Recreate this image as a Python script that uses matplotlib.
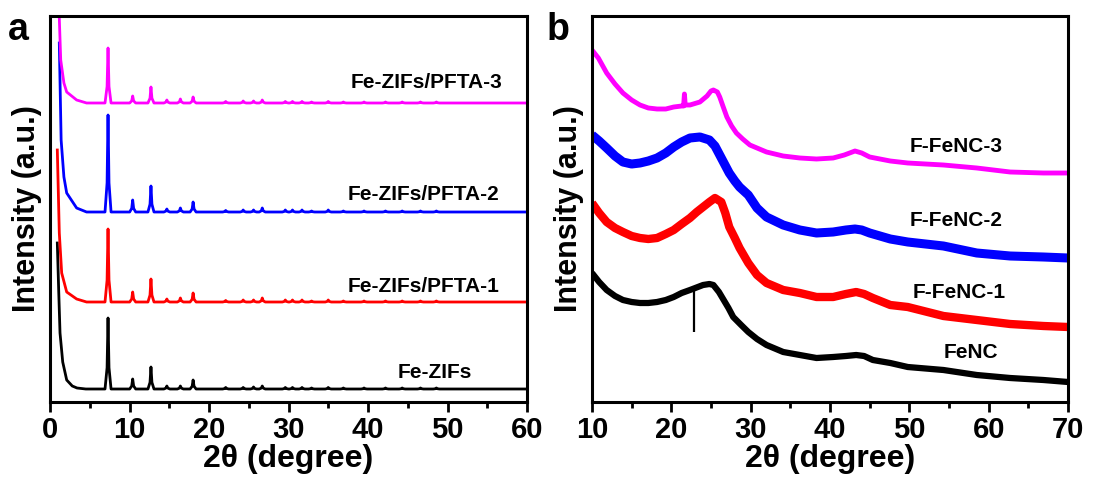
import matplotlib
matplotlib.use("Agg")
import matplotlib.pyplot as plt
from matplotlib.ticker import MultipleLocator

plt.rcParams['font.family'] = ['Liberation Sans', 'DejaVu Sans']
plt.rcParams['font.weight'] = 'bold'

# ---------------- panel a : Fe-ZIFs patterns (offset intensities) ----------------
labels_a = ['Fe-ZIFs', 'Fe-ZIFs/PFTA-1', 'Fe-ZIFs/PFTA-2', 'Fe-ZIFs/PFTA-3']
colors = ['#000000', '#ff0000', '#0000ff', '#ff00ff']

peak_pos = [7.3, 10.4, 12.7, 14.7, 16.4, 18.0, 22.1, 24.3, 25.6, 26.7, 29.6,
            30.5, 31.7, 32.9, 35.0, 36.9, 39.5, 42.2, 44.3, 46.6, 48.6]

base_a = [13, 100, 190, 299]

# low angle tail (2theta, intensity) for each pattern
tail_x = [[0.92, 1.1, 1.26, 1.6, 2.1, 2.8, 3.4, 4.5],
          [0.92, 1.17, 1.47, 2.1, 3.35, 4.6],
          [1.17, 1.4, 1.75, 2.1, 3.35, 4.6],
          [1.1, 1.35, 1.75, 2.1, 3.35, 4.6]]
tail_y = [[159, 110, 69, 40, 22, 16, 14, 13],
          [252, 169, 129, 110, 103, 100],
          [359, 262, 225, 209, 194, 190],
          [400, 342, 319, 310, 302, 299]]

heights_a = [
    [71, 10, 22, 3, 3, 9, 1.5, 1.5, 2, 3, 1.5, 1.5, 1.5, 1, 1.5, 1, 1, 1, 1, 1, 1],
    [73, 10, 23, 3, 4, 9, 1.5, 2, 2, 4, 2, 2, 2, 1, 2, 1, 1, 1, 1, 1, 1],
    [97, 12, 26, 3, 4, 10, 1.5, 2, 2, 4, 2, 2, 2, 1, 2, 1, 1, 1, 1, 1, 1],
    [55, 7, 16, 3, 4, 6, 1.5, 2, 2, 3, 1.5, 1.5, 1.5, 1, 1.5, 1, 1, 1, 1, 1, 1],
]

# ---------------- panel b : FeNC patterns ----------------
labels_b = ['FeNC', 'F-FeNC-1', 'F-FeNC-2', 'F-FeNC-3']

fenc_x = [10, 10.9, 11.85, 12.9, 13.9, 15, 16.05, 17.1, 18.2, 19.3, 20.3, 21.3,
          22.35, 24, 24.8, 25.3, 26, 26.6, 27.2, 27.8, 28.8, 29.7, 30.8, 32, 34.1,
          36.2, 38.3, 40.4, 42, 43.3, 44.3, 45.4, 47.6, 49.8, 54.3, 58.5, 62.7, 66.9, 70]
fenc_y = [129, 120, 112, 106, 102, 100, 99, 99, 100, 102, 105, 109,
          112, 117, 118, 117, 110, 102, 94, 85, 77, 70, 63, 57, 50,
          47, 44, 45, 46, 47, 46, 42, 39, 35, 32, 27, 24, 22, 20]
fenc_spike_x = 22.9
fenc_spike_y = [113, 70]

f1_x = [10, 10.9, 11.85, 12.9, 13.9, 15, 16.05, 17.1, 18.2, 19.3, 20.3, 21.3,
        22.35, 23.2, 24, 24.8, 25.5, 26.3, 26.8, 27.3, 28, 28.6, 29.7, 30.8, 32,
        34.1, 36.2, 38.3, 40.4, 42, 43.3, 44.3, 45.4, 47.6, 49.8, 54.3, 58.5, 62.7, 66.9, 70]
f1_y = [199, 189, 180, 174, 170, 166, 164, 163, 164, 168, 172, 178,
        184, 190, 195, 200, 204, 200, 189, 175, 164, 154, 139, 127, 119,
        112, 109, 105, 105, 108, 110, 108, 104, 97, 95, 86, 82, 78, 76, 75]

f2_x = [10, 10.9, 11.85, 12.9, 13.9, 15, 16.05, 17.1, 18.2, 19.3, 20.3, 21.3,
        22.35, 23.6, 24.8, 25.5, 26.1, 26.7, 27.3, 28, 28.6, 29.7, 30.8, 32, 34.1,
        36.2, 38.3, 40.4, 42, 43.15, 44, 45, 47.6, 49.8, 54.3, 58.5, 62.7, 66.9, 70]
f2_y = [267, 261, 254, 246, 240, 238, 239, 241, 244, 249, 255, 260,
        264, 265, 262, 256, 247, 238, 229, 221, 215, 207, 194, 185, 177,
        172, 169, 170, 172, 173, 172, 169, 163, 160, 156, 149, 146, 145, 144]

f3_x = [10, 10.8, 11.85, 12.9, 13.9, 15, 16.05, 17.1, 18.2, 19.3, 20.3, 21.3,
        21.55, 21.65, 21.75, 22.35, 23.6, 24.5, 25.0, 25.3, 25.8, 26.1, 26.5,
        27, 27.6, 28.2, 29, 29.9, 32, 34.1, 36.2, 38.3, 40.4, 41.8, 43.15, 44,
        45, 47.6, 49.8, 54.3, 58.5, 62.7, 66.9, 70]
f3_y = [352, 344, 329, 318, 309, 302, 297, 294, 293, 293, 295, 296,
        296, 308, 297, 297, 300, 306, 311, 312, 310, 305, 296,
        285, 276, 269, 263, 257, 250, 246, 244, 243, 244, 247, 251, 249,
        245, 241, 239, 237, 234, 230, 229, 229]

b_x = [fenc_x, f1_x, f2_x, f3_x]
b_y = [fenc_y, f1_y, f2_y, f3_y]
b_lw = [4.5, 6, 6.5, 3.5]


def build_pattern(tx, ty, base, heights):
    xs = list(tx)
    ys = list(ty)
    for c, h in zip(peak_pos, heights):
        xs += [c - 0.38, c - 0.12, c, c + 0.12, c + 0.38]
        ys += [base, base + 0.3 * h, base + h, base + 0.3 * h, base]
    xs.append(60)
    ys.append(base)
    return xs, ys


def style_axes(ax, xlim, major):
    ax.set_xlim(xlim)
    ax.set_ylim(0, 386)
    ax.set_yticks([])
    ax.xaxis.set_major_locator(MultipleLocator(major))
    ax.xaxis.set_minor_locator(MultipleLocator(major / 2))
    ax.tick_params(axis='x', which='major', direction='out', length=7, width=2,
                   labelsize=21, pad=3)
    ax.tick_params(axis='x', which='minor', direction='out', length=4, width=2)
    for lab in ax.get_xticklabels():
        lab.set_fontweight('bold')
    for s in ax.spines.values():
        s.set_linewidth(2.2)
    ax.set_xlabel('2θ (degree)', fontsize=23, fontweight='bold', labelpad=0)
    ax.set_ylabel('Intensity (a.u.)', fontsize=22, fontweight='bold', labelpad=6)


fig = plt.figure(figsize=(10.94, 4.79), dpi=100)
ax1 = fig.add_axes([50 / 1094, 1 - 402 / 479, 477 / 1094, 386 / 479])
ax2 = fig.add_axes([592 / 1094, 1 - 402 / 479, 476 / 1094, 386 / 479])

for i in range(4):
    xs, ys = build_pattern(tail_x[i], tail_y[i], base_a[i], heights_a[i])
    ax1.plot(xs, ys, color=colors[i], lw=2)

pos_a = [(53.1, 30), (56.6, 115), (56.5, 207), (56.9, 319)]
for lab, (tx, ty) in zip(labels_a, pos_a):
    ax1.text(tx, ty, lab, ha='right', va='center', fontsize=15, fontweight='bold')
style_axes(ax1, (0, 60), 10)

for i in range(4):
    ax2.plot(b_x[i], b_y[i], color=colors[i], lw=b_lw[i], solid_capstyle='butt')
ax2.vlines(fenc_spike_x, fenc_spike_y[1], fenc_spike_y[0], color='k', lw=1.6)

pos_b = [(61.2, 50), (62.2, 109), (61.8, 181), (61.7, 256)]
for lab, (tx, ty) in zip(labels_b, pos_b):
    ax2.text(tx, ty, lab, ha='right', va='center', fontsize=15, fontweight='bold')
style_axes(ax2, (10, 70), 10)

fig.text(8 / 1094, 1 - 40 / 479, 'a', fontsize=27, fontweight='bold', va='baseline')
fig.text(547 / 1094, 1 - 40 / 479, 'b', fontsize=27, fontweight='bold', va='baseline')

fig.savefig('out.png', dpi=100)
